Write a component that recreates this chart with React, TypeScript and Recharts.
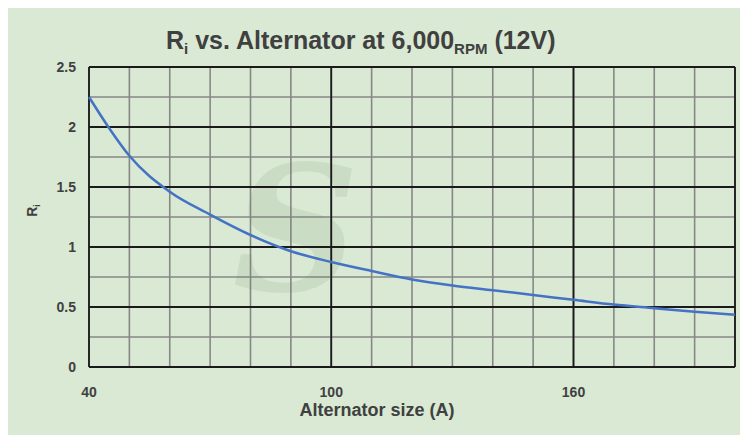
import React from 'react';
import { LineChart, Line, XAxis, YAxis, CartesianGrid, ReferenceLine, Customized } from 'recharts';

const sizes = [40, 45, 50, 60, 70, 80, 90, 100, 110, 120, 130, 140, 150, 160, 170, 180, 190, 200];
const riValues = [2.25, 1.99, 1.76, 1.46, 1.27, 1.1, 0.965, 0.875, 0.8, 0.73, 0.68, 0.64, 0.6, 0.56, 0.52, 0.49, 0.46, 0.435];
const xTicks = [40, 50, 60, 70, 80, 90, 100, 110, 120, 130, 140, 150, 160, 170, 180, 190, 200];
const xMajor = [40, 100, 160, 200];
const xLabels = [40, 100, 160];
const yTicks = [0, 0.25, 0.5, 0.75, 1, 1.25, 1.5, 1.75, 2, 2.25, 2.5];
const yMajor = [0, 0.5, 1, 1.5, 2, 2.5];

const data = sizes.map((s, i) => ({ size: s, ri: riValues[i] }));

const FONT = '"Liberation Sans", Arial, sans-serif';
const TXT = '#404040';

const Overlay = () => (
  <g>
    <text x={288} y={283} textAnchor="middle" fontFamily='"DejaVu Serif", serif' fontStyle="italic" fontWeight="bold" fontSize={175} fill="#5f7f5f" opacity={0.11}>S</text>
    <text x={158} y={41} fontFamily={FONT} fontWeight="bold" fontSize={25} fill={TXT}>
      <tspan>R</tspan>
      <tspan fontSize={15} dy={5}>i</tspan>
      <tspan dy={-5}> vs. Alternator at 6,000</tspan>
      <tspan fontSize={15} dy={5}>RPM</tspan>
      <tspan dy={-5}> (12V)</tspan>
    </text>
    <text x={369} y={408} textAnchor="middle" fontFamily={FONT} fontWeight="bold" fontSize={18} fill={TXT}>Alternator size (A)</text>
    <text x={28.5} y={202.5} transform="rotate(-90, 28.5, 202.5)" textAnchor="middle" fontFamily={FONT} fontWeight="bold" fontSize={14} fill={TXT}>
      <tspan>R</tspan>
      <tspan fontSize={9} dy={3}>i</tspan>
    </text>
  </g>
);

export default function App() {
  return (
    <div style={{ marginLeft: -1, marginTop: -1, width: 741, height: 428, background: '#d9e9d3', borderLeft: '1px solid #c9c9c9', borderTop: '1px solid #e2e2e2', boxSizing: 'border-box', overflow: 'hidden' }}>
      <LineChart width={740} height={427} data={data} margin={{ top: 59, right: 13, bottom: 38, left: 0 }}>
        <CartesianGrid stroke="#878787" strokeWidth={1.6} />
        <XAxis
          dataKey="size"
          type="number"
          domain={[40, 200]}
          ticks={xTicks}
          interval={0}
          axisLine={false}
          tickLine={false}
          tickSize={0}
          tickMargin={20}
          height={30}
          tickFormatter={(v: number) => (xLabels.includes(v) ? String(v) : '')}
          tick={{ fill: TXT, fontSize: 14, fontWeight: 'bold', fontFamily: FONT }}
        />
        <YAxis
          type="number"
          domain={[0, 2.5]}
          ticks={yTicks}
          interval={0}
          axisLine={false}
          tickLine={false}
          tickSize={0}
          tickMargin={13}
          width={81}
          tickFormatter={(v: number) => (Math.abs(v * 2 - Math.round(v * 2)) < 1e-6 ? String(v) : '')}
          tick={{ fill: TXT, fontSize: 14, fontWeight: 'bold', fontFamily: FONT }}
        />
        {xMajor.map((x) => (
          <ReferenceLine key={'x' + x} x={x} stroke="#1a1a1a" strokeWidth={1.8} />
        ))}
        {yMajor.map((y) => (
          <ReferenceLine key={'y' + y} y={y} stroke="#1a1a1a" strokeWidth={1.8} />
        ))}
        <Line type="monotone" dataKey="ri" stroke="#4472c4" strokeWidth={2.5} dot={false} isAnimationActive={false} />
        <Customized component={Overlay} />
      </LineChart>
    </div>
  );
}
